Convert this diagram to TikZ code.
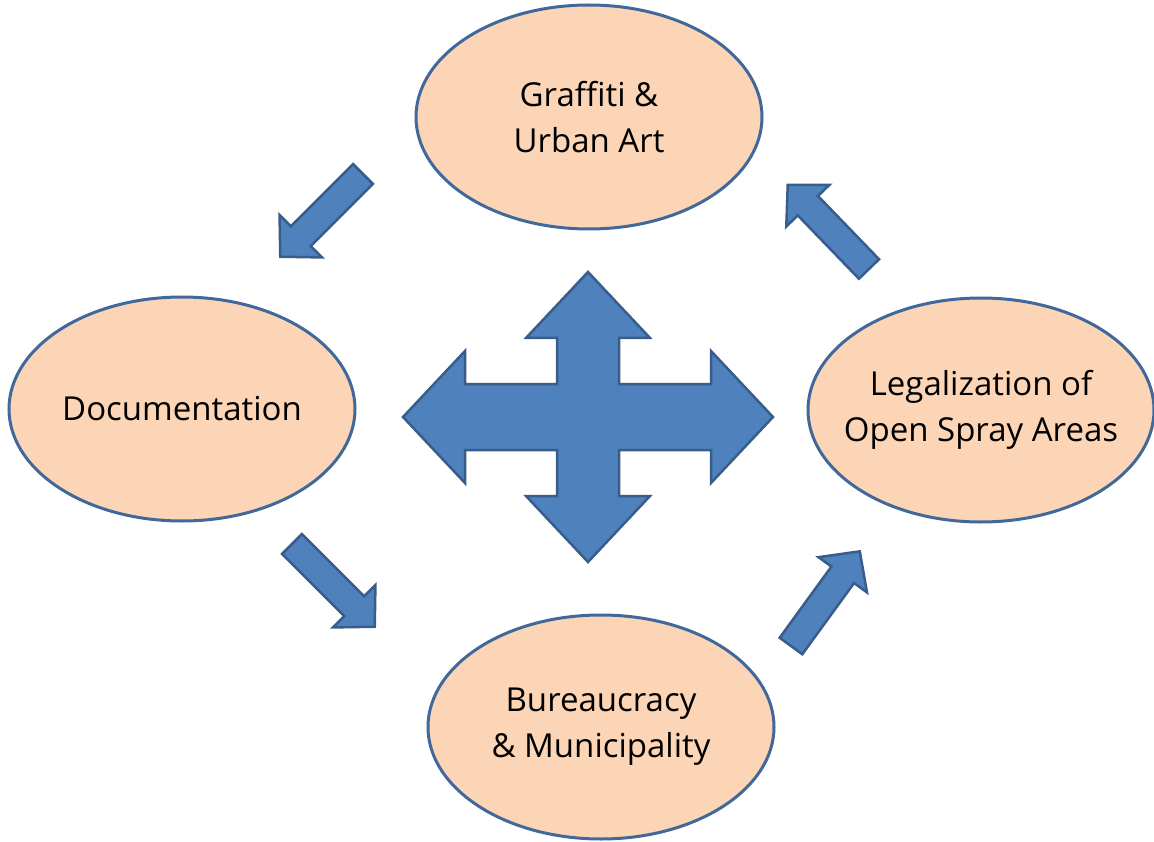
\documentclass[tikz,border=0pt]{standalone}
\usepackage{fontspec}
\setmainfont{Open Sans}
\usepackage{tikz}
\usetikzlibrary{shapes.geometric}

\definecolor{peach}{HTML}{FBD5B5}
\definecolor{ringblue}{HTML}{41689A}
\definecolor{arrowfill}{HTML}{4F81BD}
\definecolor{arrowline}{HTML}{385D8A}

\tikzset{
  stage/.style={ellipse, draw=ringblue, line width=3pt, fill=peach,
    minimum width=346pt, minimum height=224pt, inner xsep=-40pt, inner ysep=-30pt,
    align=center, font=\fontsize{33}{46}\selectfont},
  blockarrow/.style={fill=arrowfill, draw=arrowline, line width=2.5pt, line join=miter},
  flowarrow/.pic={
    \draw[blockarrow] (0,-14) -- (88,-14) -- (88,-30) -- (117,0)
      -- (88,30) -- (88,14) -- (0,14) -- cycle;
  }
}

\begin{document}
\begin{tikzpicture}[x=1pt, y=-1pt]
\useasboundingbox (0,0) rectangle (1154,842);

% the four stages of the cycle
\node[stage] (graffiti) at (589,117) {Graffiti \&\\Urban Art};
\node[stage] (docu)     at (182,409) {Documentation};
\node[stage] (legal)    at (981,410) {Legalization of\\Open Spray Areas};
\node[stage] (bureau)   at (601,727) {Bureaucracy\\\& Municipality};

% arrows going round between the stages (tail x / tail y / direction)
\foreach \tx/\ty/\ang in {363/174/225, 292/544/-45, 791/646/54, 869/269/134}
  \pic[rotate=\ang] at (\tx,\ty) {flowarrow};

% the four-way arrow in the middle
\begin{scope}[shift={(588,417)}]
  \draw[blockarrow] (0,-145) -- (62,-79) -- (31,-79) -- (31,-33) -- (123,-33)
    -- (123,-66) -- (185,0) -- (123,66) -- (123,33) -- (31,33) -- (31,79)
    -- (62,79) -- (0,145) -- (-62,79) -- (-31,79) -- (-31,33) -- (-123,33)
    -- (-123,66) -- (-185,0) -- (-123,-66) -- (-123,-33) -- (-31,-33)
    -- (-31,-79) -- (-62,-79) -- cycle;
\end{scope}
\end{tikzpicture}
\end{document}
